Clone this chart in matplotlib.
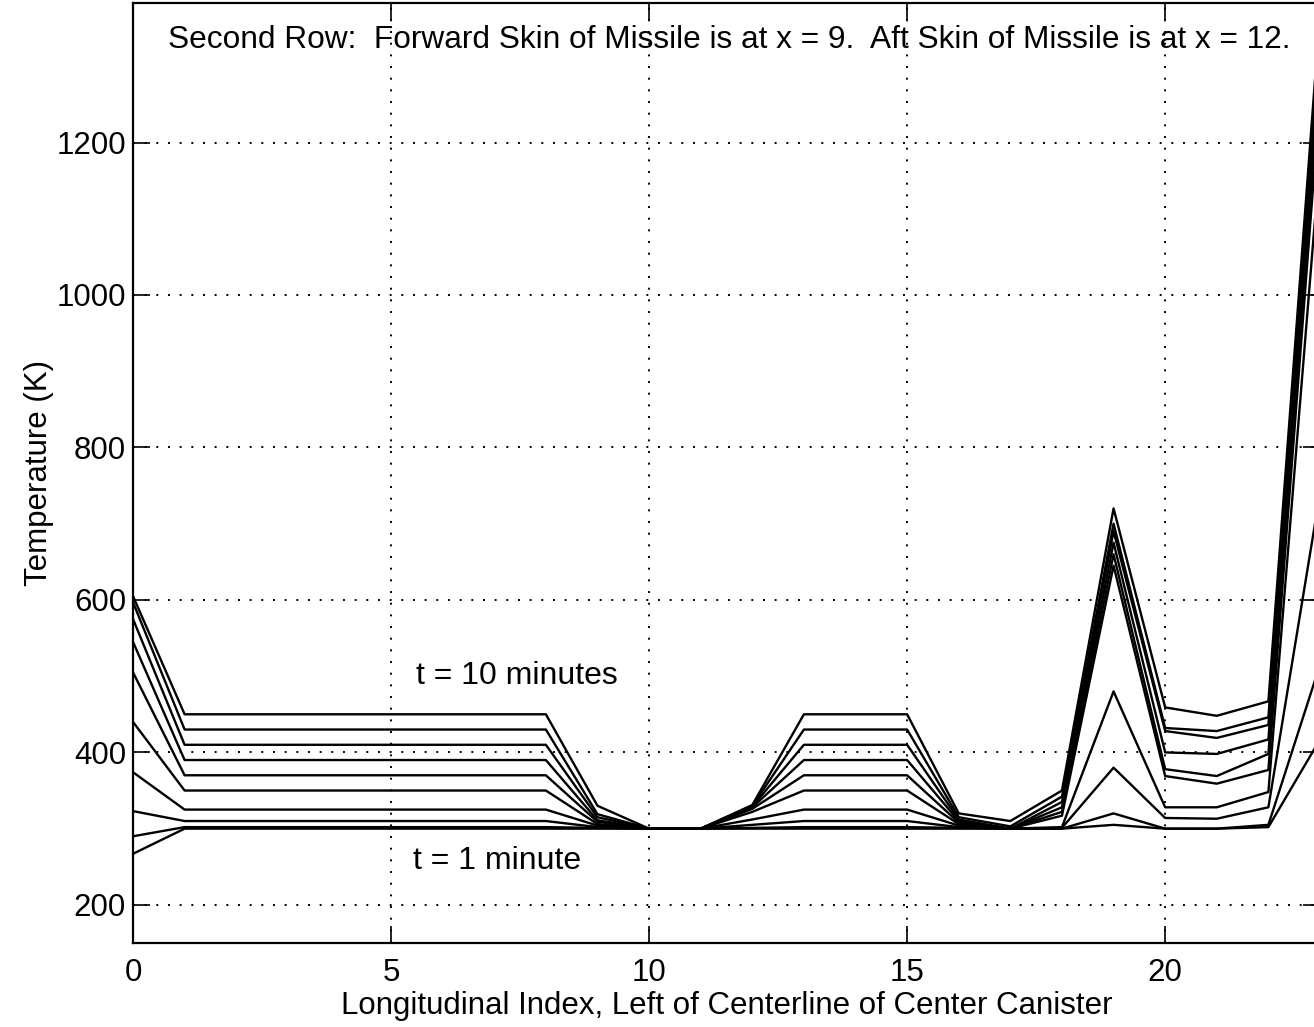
import matplotlib
matplotlib.use("Agg")
import matplotlib.pyplot as plt

plt.rcParams['font.family'] = ['Liberation Sans', 'DejaVu Sans']

# longitudinal index
xs = list(range(24))

# temperature (K) for t = 1 .. 10 minutes
t1 = [267, 300, 300, 300, 300, 300, 300, 300, 300, 300, 300, 300, 300, 300, 300, 300, 300, 300, 300, 305, 300, 300, 302, 417]
t2 = [290, 302, 302, 302, 302, 302, 302, 302, 302, 301, 300, 300, 301, 302, 302, 302, 301, 300, 300, 320, 300, 300, 305, 515]
t3 = [323, 310, 310, 310, 310, 310, 310, 310, 310, 302, 300, 300, 305, 310, 310, 310, 302, 300, 301, 380, 314, 313, 328, 740]
t4 = [374, 325, 325, 325, 325, 325, 325, 325, 325, 304, 300, 300, 312, 325, 325, 325, 304, 300, 302, 480, 328, 328, 348, 1180]
t5 = [440, 350, 350, 350, 350, 350, 350, 350, 350, 306, 300, 300, 322, 350, 350, 350, 306, 300, 317, 645, 369, 359, 377, 1260]
t6 = [505, 370, 370, 370, 370, 370, 370, 370, 370, 309, 300, 300, 326, 370, 370, 370, 308, 300, 322, 660, 378, 369, 398, 1290]
t7 = [545, 390, 390, 390, 390, 390, 390, 390, 390, 311, 300, 300, 328, 390, 390, 390, 310, 300, 328, 675, 400, 398, 417, 1310]
t8 = [575, 410, 410, 410, 410, 410, 410, 410, 410, 315, 300, 300, 329, 410, 410, 410, 312, 300, 335, 690, 428, 419, 436, 1330]
t9 = [597, 430, 430, 430, 430, 430, 430, 430, 430, 319, 300, 300, 330, 430, 430, 430, 315, 303, 342, 700, 432, 428, 446, 1350]
t10 = [605, 450, 450, 450, 450, 450, 450, 450, 450, 330, 300, 300, 331, 450, 450, 450, 320, 310, 350, 720, 459, 448, 467, 1370]

curves = [t1, t2, t3, t4, t5, t6, t7, t8, t9, t10]

fig = plt.figure(figsize=(13.14, 10.27), dpi=100)
# axes right edge runs a little past the picture, like the scanned original
ax = fig.add_axes([133/1314, 84/1027, 1187/1314, 940/1027])

for ys in curves:
    ax.plot(xs, ys, color='black', lw=1.7)

ax.set_xlim(0, 23)
ax.set_ylim(150, 1383)
ax.set_xticks([0, 5, 10, 15, 20])
ax.set_yticks([200, 400, 600, 800, 1000, 1200])
ax.grid(True, color='black', linestyle=(0, (1, 5)), linewidth=1.4)
ax.tick_params(direction='in', length=12, width=1.2, labelsize=22.5,
               top=True, right=True)
ax.tick_params(axis='x', pad=11)
ax.tick_params(axis='y', pad=5)
for s in ax.spines.values():
    s.set_linewidth(1.6)

ax.set_xlabel('Longitudinal Index, Left of Centerline of Center Canister', fontsize=22.5, labelpad=2)
ax.set_ylabel('Temperature (K)', fontsize=22.5, labelpad=2)

ax.text(0.502, 0.977, 'Second Row:  Forward Skin of Missile is at x = 9.  Aft Skin of Missile is at x = 12.',
        transform=ax.transAxes, ha='center', va='top', fontsize=22.8)
ax.text(5.48, 500, 't = 10 minutes', fontsize=23, ha='left', va='center')
ax.text(5.43, 258, 't = 1 minute', fontsize=23, ha='left', va='center')

fig.savefig("out.png", dpi=100)
